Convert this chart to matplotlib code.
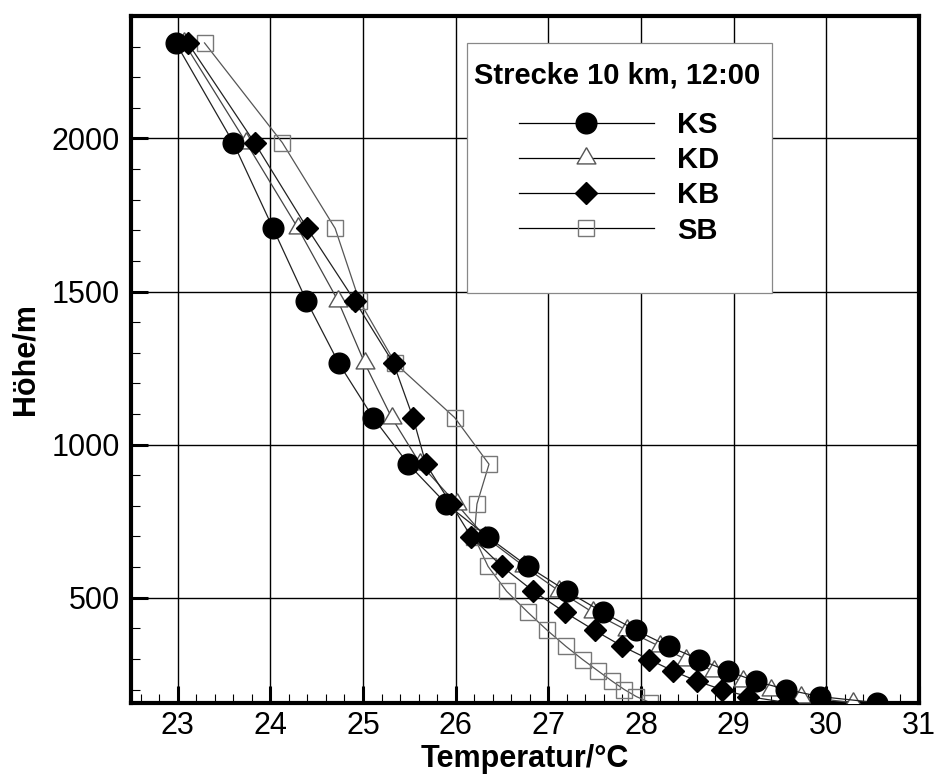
import matplotlib
matplotlib.use('Agg')
import matplotlib.pyplot as plt
from matplotlib.patches import Rectangle
from matplotlib.ticker import MultipleLocator

plt.rcParams['font.family'] = ['Liberation Sans', 'DejaVu Sans']

# Hoehenstufen (m) und Temperaturen (°C)
hoehe = [2312, 1986, 1706, 1470, 1265, 1088, 936, 806, 698, 602,
         521, 452, 393, 341, 298, 260, 227, 200, 177, 157]
ks = [22.98, 23.60, 24.03, 24.39, 24.74, 25.11, 25.49, 25.90, 26.35, 26.78,
      27.20, 27.59, 27.95, 28.30, 28.63, 28.94, 29.24, 29.57, 29.93, 30.55]
kd = [23.07, 23.74, 24.30, 24.73, 25.02, 25.31, 25.62, 26.01, 26.32, 26.74,
      27.12, 27.48, 27.85, 28.20, 28.49, 28.79, 29.10, 29.40, 29.73, 30.29]
kb = [23.11, 23.83, 24.40, 24.91, 25.33, 25.54, 25.68, 25.95, 26.17, 26.50,
      26.84, 27.18, 27.50, 27.80, 28.09, 28.35, 28.61, 28.87, 29.16, 29.58]
sb = [23.29, 24.13, 24.70, 24.96, 25.35, 25.99, 26.36, 26.23, 26.20, 26.35,
      26.55, 26.78, 26.99, 27.19, 27.37, 27.54, 27.69, 27.82, 27.95, 28.10]

x_ticks = [23, 24, 25, 26, 27, 28, 29, 30, 31]
y_ticks = [500, 1000, 1500, 2000]

# gleichseitiges Dreieck, auf Schwerpunkt zentriert
tri = [(0, 0.577), (-0.5, -0.289), (0.5, -0.289), (0, 0.577)]

fig = plt.figure(figsize=(9.36, 7.75), dpi=100)
ax = fig.add_axes([0.1403, 0.0933, 0.8415, 0.8861])

l_sb, = ax.plot(sb, hoehe, color='#555555', lw=0.9, marker='s', ms=11.3,
                mfc='none', mec='#777777', mew=1.0, zorder=2)
l_kd, = ax.plot(kd, hoehe, color='#444444', lw=0.9, marker=tri, ms=15.6,
                mfc='white', mec='#555555', mew=1.0, zorder=3)
l_kb, = ax.plot(kb, hoehe, color='#222222', lw=0.9, marker='D', ms=11.5,
                mfc='black', mec='black', zorder=4)
l_ks, = ax.plot(ks, hoehe, color='#222222', lw=0.9, marker='o', ms=14.9,
                mfc='black', mec='black', zorder=5)

ax.set_xlim(22.5, 31)
ax.set_ylim(157, 2400)
ax.set_xticks(x_ticks)
ax.set_yticks(y_ticks)
ax.xaxis.set_minor_locator(MultipleLocator(0.2))
ax.yaxis.set_minor_locator(MultipleLocator(100))
ax.tick_params(which='major', direction='in', length=12.5, width=2.2,
               labelsize=22, top=False, right=False)
ax.tick_params(which='minor', direction='in', length=6.5, width=0.8,
               top=False, right=False)
ax.tick_params(axis='x', which='major', pad=6)
ax.tick_params(axis='y', which='major', pad=8)
ax.grid(True, which='major', color='black', lw=1.0)
ax.set_axisbelow(True)
for s in ax.spines.values():
    s.set_linewidth(3)

ax.set_xlabel('Temperatur/°C', fontsize=22, fontweight='bold', labelpad=2)
ax.set_ylabel('Höhe/m', fontsize=22, fontweight='bold')
ax.yaxis.set_label_coords(-0.115, 0.5)

# Legendenkasten
ax.add_patch(Rectangle((0.4262, 0.5966), 0.3872, 0.3641, transform=ax.transAxes,
                       facecolor='white', edgecolor='#888888', lw=0.9, zorder=6))
ax.text(0.6166, 0.902, 'Strecke 10 km, 12:00', transform=ax.transAxes,
        ha='center', va='baseline', fontsize=21, fontweight='bold', zorder=7)
leg = ax.legend([l_ks, l_kd, l_kb, l_sb], ['KS', 'KD', 'KB', 'SB'],
                loc='upper left', bbox_to_anchor=(0.492, 0.862), frameon=False,
                prop={'weight': 'bold', 'size': 21}, handlelength=4.63,
                handletextpad=0.79, labelspacing=0.25, borderpad=0,
                borderaxespad=0)
leg.set_zorder(8)
for h in leg.legend_handles:
    h.set_color('black')

fig.savefig('out.png', dpi=100)
